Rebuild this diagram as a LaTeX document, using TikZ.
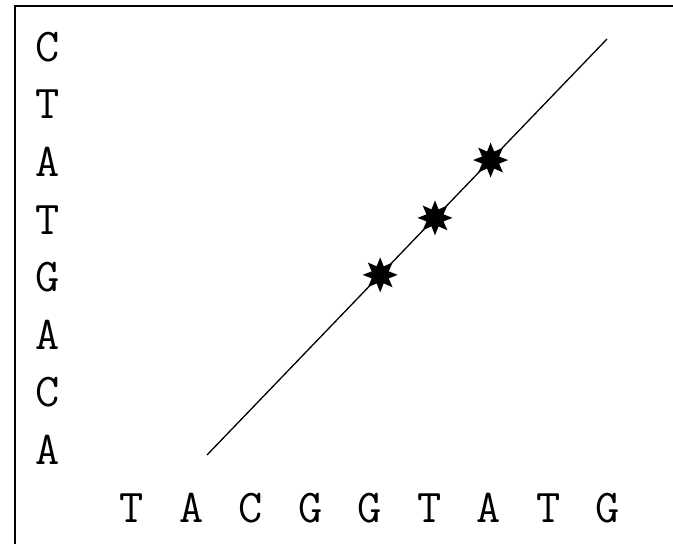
\documentclass[tikz,border=0pt]{standalone}
\usetikzlibrary{shapes.geometric}

\begin{document}
\begin{tikzpicture}[x=1pt, y=-1pt,
  base/.style={font=\ttfamily\fontsize{47}{47}\selectfont, inner sep=0pt},
  hit/.style={star, star points=8, star point ratio=1.9, fill=black, draw=none, minimum size=35pt, inner sep=0pt},
  diag/.style={line width=1.3pt}]
  \useasboundingbox (0,0) rectangle (673,544);
  \draw[line width=2.6pt] (15,560) -- (15,6) -- (690,6);
  % vertical sequence
  \foreach \b [count=\i] in {C,T,A,T,G,A,C,A}
    \node[base] (v\i) at (48, 47+57.6*\i-57.6) {\b};
  % horizontal sequence
  \foreach \b [count=\i] in {T,A,C,G,G,T,A,T,G}
    \node[base] (h\i) at (132+59.5*\i-59.5, 508) {\b};
  % diagonal with matches
  \coordinate (lo) at (207,455); \coordinate (hi) at (607,39);
  \draw[diag] (lo) -- node[hit, pos=0.433] (m1) {} node[hit, pos=0.57] (m2) {}
    node[hit, pos=0.709] (m3) {} (hi);
\end{tikzpicture}
\end{document}
